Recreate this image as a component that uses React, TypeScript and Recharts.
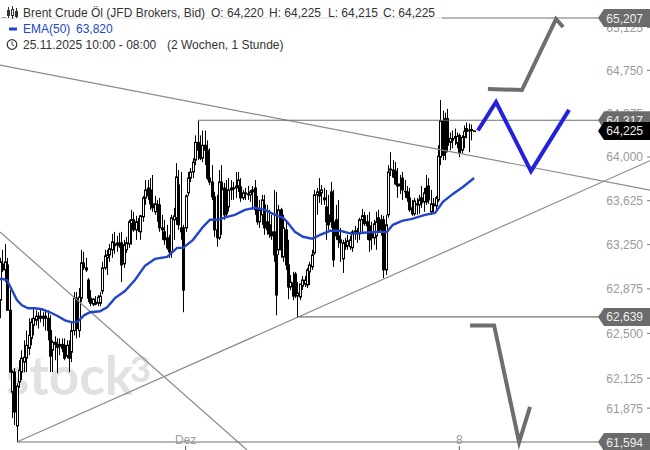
import React from "react";
import {
  ComposedChart, Bar, Line, XAxis, YAxis, ReferenceLine,
} from "recharts";

type Ohlc = [number, number, number, number];

// Hourly bars: [open, high, low, close]
const barsLateNovember: Ohlc[] = [
  [62780,63138,62627,63104],[63087,63206,63019,63036],[63036,63257,62933,63104],[63078,63138,62695,62695],
  [62695,62865,62176,62176],[62009,62192,61793,62176],[62176,62209,61735,61843],[61727,62084,61594,62059],
  [62093,62275,62043,62192],[62176,62359,62109,62292],[62259,62442,62176,62300],[62292,62524,62176,62400],
  [62375,62627,62317,62483],[62458,62627,62400,62593],[62567,62712,62483,62627],[62610,62695,62567,62644],
  [62644,62678,62541,62627],[62627,62712,62593,62644],[62644,62678,62558,62627],[62627,62695,62524,62644],
  [62627,62695,62442,62524],[62524,62652,62176,62309],[62359,62442,62176,62425],[62425,62475,62275,62408],
  [62408,62458,62167,62383],[62392,62458,62317,62408],[62408,62458,62342,62375],[62400,62458,62275,62292],
  [62309,62442,62292,62400],[62400,62442,62176,62292],[62342,62593,62259,62524],[62524,62848,62483,62797],
  [62797,62848,62458,62541],[62524,62882,62466,62806],[62797,63206,62763,63095],[63095,63189,63036,63053],
  [63053,63138,63019,63036],[62950,62967,62763,62797],[62797,62865,62729,62754],[62746,62797,62729,62788],
];
const barsEndOfMonth: Ohlc[] = [
  [62763,62814,62737,62746],[62754,62823,62729,62806],[62754,62848,62729,62814],[62857,63104,62831,63053],
  [63053,63206,63036,63155],[63138,63206,62993,63163],[63163,63257,63104,63215],[63206,63342,63138,63274],
  [63257,63359,63172,63240],[63249,63325,63189,63266],[63257,63351,63223,63240],[63266,63359,62933,63078],
  [63087,63291,63053,63249],[63206,63317,63180,63266],[63257,63462,63223,63445],[63428,63547,63249,63462],
  [63462,63530,63359,63376],[63376,63496,63291,63445],[63445,63479,63359,63376],[63359,63504,63291,63496],
  [63487,63666,63445,63649],[63649,63802,63589,63717],[63734,63802,63632,63666],[63717,63819,63547,63598],
  [63598,63845,63530,63564],[63530,63666,63504,63598],[63589,63632,63445,63581],[63589,63649,63359,63393],
  [63393,63504,63291,63376],[63359,63462,63249,63291],[63308,63419,63206,63223],[63223,63334,63138,63189],
  [63189,63504,63138,63479],[63462,63564,63291,63496],[63479,63947,63419,63828],[63760,63888,63376,63419],
  [63393,63871,63291,63359],[63393,63419,62678,62865],[63393,63680,63359,63666],[63692,63871,63666,63819],
];
const barsEarlyDecember: Ohlc[] = [
  [63819,63905,63785,63871],[63871,63990,63819,63956],[63973,64186,63930,64126],[64126,64314,63973,64058],
  [64075,64186,63973,63990],[63990,64228,63956,64101],[64101,64228,63930,64058],[64058,64143,63802,63819],
  [63819,64075,63760,63785],[63785,63930,63632,63658],[63658,63700,63317,63376],[63376,63675,63232,63308],
  [63308,63888,63291,63785],[63785,63930,63334,63717],[63734,63777,63462,63504],[63717,63802,63487,63513],
  [63572,63819,63530,63717],[63717,63802,63632,63734],[63734,63785,63632,63726],[63734,63871,63649,63751],
  [63751,63871,63700,63802],[63743,63819,63615,63649],[63649,63717,63632,63692],[63683,63734,63632,63692],
  [63683,63751,63632,63675],[63675,63717,63615,63700],[63700,63751,63547,63717],[63734,63802,63504,63547],
  [63547,63666,63419,63445],[63445,63632,63393,63547],[63504,63675,63419,63632],[63589,63675,63334,63393],
  [63445,63589,63334,63376],[63419,63547,63308,63342],[63359,63504,63291,63325],[63359,63717,63104,63163],
  [63163,63700,62652,62823],[63206,63589,63163,63547],[63547,63564,63138,63206],[63146,63504,63104,63393],
];
const barsMidWeek: Ohlc[] = [
  [63376,63445,63036,63078],[63078,63291,62788,62891],[62891,62993,62865,62933],[62925,63019,62780,62814],
  [63001,63019,62797,62823],[62814,62933,62635,62840],[62806,62916,62780,62916],[62899,62984,62865,62950],
  [62916,62984,62891,62950],[62908,63053,62882,63036],[63019,63104,62908,63078],[63061,63206,63036,63163],
  [63180,63717,63163,63675],[63675,63734,63504,63700],[63700,63819,63606,63666],[63692,63760,63589,63717],
  [63649,63734,63589,63632],[63572,63717,63291,63445],[63504,63675,63376,63419],[63700,63785,63393,63445],
  [63445,63717,63061,63121],[63462,63589,63291,63325],[63325,63632,63223,63291],[63291,63393,63104,63266],
  [63129,63291,63010,63266],[63266,63308,63206,63232],[63240,63334,63206,63283],[63232,63325,63206,63291],
  [63223,63376,63189,63359],[63359,63410,63291,63368],[63359,63393,63266,63351],[63342,63479,63291,63462],
  [63462,63555,63359,63496],[63496,63530,63410,63428],[63445,63504,63291,63410],[63410,63530,63189,63291],
  [63359,63445,63206,63308],[63308,63462,63249,63428],[63325,63530,63206,63445],[63479,63547,63359,63359],
  [63462,63504,63325,63376],[63462,63496,62967,63036],[63036,63504,62993,63419],[63504,63930,63479,63871],
];
const barsLatest: Ohlc[] = [
  [63888,64041,63836,63896],[63888,63973,63819,63828],[63879,63956,63760,63768],[63768,63905,63649,63751],
  [63751,63845,63683,63768],[63819,63871,63632,63717],[63700,63802,63649,63705],[63700,63751,63615,63649],
  [63649,63734,63530,63547],[63564,63632,63496,63513],[63513,63649,63496,63623],[63598,63649,63504,63589],
  [63589,63675,63513,63632],[63649,63751,63564,63606],[63615,63734,63530,63692],[63734,63845,63589,63615],
  [63751,63819,63598,63632],[63530,63717,63504,63598],[63581,63649,63513,63598],[63581,63666,63530,63649],
  [63632,64101,63615,64007],[63998,64492,63930,64314],[64314,64399,63973,64015],[64331,64382,63973,64041],
  [64331,64416,64041,64101],[64126,64211,64058,64160],[64160,64228,64075,64143],[64160,64245,64101,64177],
  [64118,64211,64075,64177],[64186,64203,63998,64032],[64058,64186,64032,64169],[64169,64271,64075,64220],
  [64220,64297,64160,64245],[64228,64288,64041,64230],[64237,64280,64143,64228],[64220,64225,64215,64225],
];

const emaBarIndex = [0,1.3,2.9,5,7.1,9.2,11.8,14.7,17.6,21,24.4,27.3,30.3,32.8,35.3,37.8,42,45,48.3,52.5,56.7,60.9,65.1,70.2,74.4,76.9,81.1,85.3,88.2,91.6,95.4,98.7,102.9,107.1,111.3,114.7,118.9,120.6,123.9,127.3,131.1,134.5,138.7,142.9,147.9,152.5,158.4,162.6,165.1,168.9,173.1,178.6,182.8,186.1,190.3,194.5,199.2];
const emaValues = [62959,62959,62950,62865,62780,62737,62712,62712,62703,62678,62644,62610,62593,62601,62652,62678,62686,62720,62797,62857,62950,63070,63129,63146,63223,63223,63291,63402,63462,63462,63487,63504,63547,63564,63547,63513,63479,63445,63359,63317,63300,63334,63368,63368,63342,63351,63359,63359,63419,63453,63470,63504,63521,63615,63683,63743,63819];

const bullScenarioX = [205, 219.3, 233.6, 236.6];
const bullScenarioY = [64587, 64579, 65198, 65128];
const baseScenarioX = [200.8, 208.4, 223.1, 239.1];
const baseScenarioY = [64228, 64475, 63879, 64407];
const bearScenarioX = [197.5, 207.6, 218.1, 222.7];
const bearScenarioY = [62567, 62567, 61594, 61885];

const priceTicks = [65125, 64750, 64375, 64000, 63625, 63250, 62875, 62500, 62125, 61875, 61625];
const timeTicks = [78, 193];
const timeLabels: Record<number, string> = { 78: "Dez", 193: "8" };
const levelPrices = [65207, 64317, 62639, 61594];
const levelStarts = [185.7, 83.2, 125.2, 7.1];
const LAST_PRICE = 64225;
const X_MAX = 273.1;
const PRICE_DOMAIN = [61528, 65365];
const trends = [
  { x1: 0, y1: 64796, x2: X_MAX, y2: 63716 },
  { x1: 7.1, y1: 61594, x2: X_MAX, y2: 63968 },
  { x1: 0, y1: 63358, x2: 103.8, y2: 61528 },
];

const allBars = [...barsLateNovember, ...barsEndOfMonth, ...barsEarlyDecember, ...barsMidWeek, ...barsLatest];
const rows = allBars.map(([open, high, low, close], i) => ({ x: i, open, high, low, close, range: [low, high] }));
const zip = (xs: number[], ys: number[]) => xs.map((x, i) => ({ x, y: ys[i] }));

const FONT = '"Liberation Sans", Arial, sans-serif';

function Candle(props: any) {
  const { x, y, width, height, payload } = props;
  if (!payload) return null;
  const { open, high, low, close } = payload;
  const span = Math.log(high / low) || 1;
  const at = (p: number) => y + (height * Math.log(high / p)) / span;
  const cx = Math.round(x + width / 2) + 0.5;
  const top = at(Math.max(open, close));
  const bottom = at(Math.min(open, close));
  const up = close >= open;
  return (
    <g>
      <line x1={cx} x2={cx} y1={y} y2={y + height} stroke="#000" strokeWidth={1} />
      <rect x={cx - 1} y={top} width={2} height={Math.max(bottom - top, 0.6)}
        fill={up ? "#fff" : "#000"} stroke="#000" strokeWidth={1} />
    </g>
  );
}

function PriceTick(props: any) {
  const { y, payload } = props;
  const s = payload.value.toLocaleString("en-US");
  return (
    <g>
      <line x1={647} x2={650} y1={y} y2={y} stroke="#777" />
      <text x={643} y={y + 4.5} textAnchor="end" fontSize={12} fontFamily={FONT} fill="#9a9a9a">{s}</text>
    </g>
  );
}

function LevelBadge(props: any) {
  const { y, payload } = props;
  const fill = payload.value === LAST_PRICE ? "#000000" : "#6b6b6b";
  return (
    <g>
      <polygon points={`598,${y} 604,${y - 9} 650,${y - 9} 650,${y + 9} 604,${y + 9}`} fill={fill} />
      <text x={643} y={y + 4.5} textAnchor="end" fontSize={12} fontFamily={FONT} fill="#eeeeee">{payload.value.toLocaleString("en-US")}</text>
    </g>
  );
}

function TimeTick(props: any) {
  const { x, payload } = props;
  return (
    <g>
      <line x1={x} x2={x} y1={446} y2={450} stroke="#555" />
      <text x={x} y={444} textAnchor="middle" fontSize={12} fontFamily={FONT} fill="#9a9a9a">{timeLabels[payload.value]}</text>
    </g>
  );
}

const rowText: React.CSSProperties = {
  position: "absolute", fontFamily: FONT, fontSize: 12, lineHeight: "14px", color: "#333", whiteSpace: "pre",
};

export default function App() {
  return (
    <div style={{ position: "absolute", left: 0, top: 0, width: 650, height: 450, background: "#fff", overflow: "hidden" }}>
      <div style={{ position: "absolute", left: 6, top: 345, fontFamily: "Lato, sans-serif", fontSize: 53, lineHeight: "60px", color: "#e1e1e3", fontWeight: 700 }}>stock</div>
      <div style={{ position: "absolute", left: 130, top: 348, fontFamily: "Lato, sans-serif", fontSize: 36, lineHeight: "40px", color: "#e1e1e3", fontWeight: 700 }}>3</div>
      <div style={{ position: "absolute", left: 0, top: 0 }}>
        <ComposedChart width={650} height={450} data={rows} margin={{ top: 0, right: 0, bottom: 0, left: 0 }} barCategoryGap={0}>
          <XAxis dataKey="x" type="number" domain={[0, X_MAX]} ticks={timeTicks} allowDataOverflow
            mirror axisLine={false} tickLine={false} tick={<TimeTick />} interval={0} height={20} />
          <YAxis type="number" scale="log" domain={PRICE_DOMAIN} ticks={priceTicks} allowDataOverflow
            orientation="right" mirror axisLine={false} tickLine={false} tick={<PriceTick />} interval={0} width={50} />
          <YAxis yAxisId="levels" type="number" scale="log" domain={PRICE_DOMAIN} ticks={[...levelPrices, LAST_PRICE]} allowDataOverflow
            orientation="right" mirror axisLine={false} tickLine={false} tick={<LevelBadge />} interval={0} width={50} />
          <Bar dataKey="range" barSize={3} isAnimationActive={false} shape={<Candle />} />
          <ReferenceLine segment={[{ x: 0, y: 65207 }, { x: 185.7, y: 65207 }]} stroke="#dddddd" strokeWidth={1} />
          {trends.map((t, i) => (
            <ReferenceLine key={i} segment={[{ x: t.x1, y: t.y1 }, { x: t.x2, y: t.y2 }]} stroke="#8a8a8a" strokeWidth={1.2} />
          ))}
          {levelPrices.map((price, i) => (
            <ReferenceLine key={price} segment={[{ x: levelStarts[i], y: price }, { x: X_MAX, y: price }]} stroke="#707070" strokeWidth={1.2} />
          ))}
          <Line data={zip(emaBarIndex, emaValues)} dataKey="y" stroke="#2346c8" strokeWidth={2.4} dot={false} isAnimationActive={false} />
          <Line data={zip(bullScenarioX, bullScenarioY)} dataKey="y" stroke="#6e6e6e" strokeWidth={4} dot={false} isAnimationActive={false} />
          <Line data={zip(baseScenarioX, baseScenarioY)} dataKey="y" stroke="#2222dd" strokeWidth={4} dot={false} isAnimationActive={false} />
          <Line data={zip(bearScenarioX, bearScenarioY)} dataKey="y" stroke="#6e6e6e" strokeWidth={4} dot={false} isAnimationActive={false} />
        </ComposedChart>
      </div>
      <svg width={20} height={60} style={{ position: "absolute", left: 0, top: 0 }}>
        <g stroke="#333" fill="none">
          <path d="M2 17.5H6" stroke="#999" />
          <path d="M8.5 7V18M12.5 6V19M16.5 8V18" />
          <rect x={7.5} y={10.5} width={2} height={5} fill="#333" />
          <rect x={11.5} y={9.5} width={2} height={6} fill="#fff" />
          <rect x={15.5} y={11.5} width={2} height={5} fill="#333" />
          <circle cx={12} cy={44.5} r={4.8} strokeWidth={1.2} />
          <path d="M12 41.5V44.5L14.2 46" />
        </g>
        <rect x={9} y={27.5} width={8} height={3} fill="#2346c8" />
      </svg>
      <span style={{ ...rowText, left: 23, top: 6 }}>Brent Crude Öl (JFD Brokers, Bid)</span>
      <span style={{ ...rowText, left: 211, top: 6 }}>O: 64,220</span>
      <span style={{ ...rowText, left: 269, top: 6 }}>H: 64,225</span>
      <span style={{ ...rowText, left: 328, top: 6 }}>L: 64,215</span>
      <span style={{ ...rowText, left: 383, top: 6 }}>C: 64,225</span>
      <span style={{ ...rowText, left: 23, top: 22, color: "#2346c8" }}>EMA(50)</span>
      <span style={{ ...rowText, left: 76, top: 22, color: "#2346c8" }}>63,820</span>
      <span style={{ ...rowText, left: 23, top: 38 }}>25.11.2025 10:00 - 08:00</span>
      <span style={{ ...rowText, left: 167, top: 38 }}>(2 Wochen, 1 Stunde)</span>
    </div>
  );
}
